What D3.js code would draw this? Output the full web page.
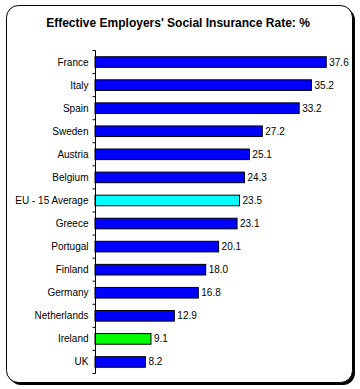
<!DOCTYPE html>
<html><head><meta charset="utf-8">
<script src="https://cdn.jsdelivr.net/npm/d3@7"></script>
<style>body{margin:0;background:#fff;}svg{display:block;}</style>
</head><body>
<script>
const categories = ["France","Italy","Spain","Sweden","Austria","Belgium","EU - 15 Average","Greece","Portugal","Finland","Germany","Netherlands","Ireland","UK"];
const values = [37.6,35.2,33.2,27.2,25.1,24.3,23.5,23.1,20.1,18.0,16.8,12.9,9.1,8.2];
const barColors = ["#0000FF","#0000FF","#0000FF","#0000FF","#0000FF","#0000FF","#00FFFF","#0000FF","#0000FF","#0000FF","#0000FF","#0000FF","#00FF00","#0000FF"];
const title = "Effective Employers' Social Insurance Rate: %";

const W = 360, H = 389;
const svg = d3.select("body").append("svg").attr("width", W).attr("height", H);

// frame with shadow
svg.append("rect").attr("x", 9).attr("y", 8).attr("width", 346).attr("height", 377)
  .attr("rx", 12).attr("fill", "#000");
svg.append("rect").attr("x", 6.5).attr("y", 5.5).attr("width", 346).attr("height", 377)
  .attr("rx", 12).attr("fill", "#fff").attr("stroke", "#000").attr("stroke-width", 1);

svg.append("text").attr("x", 178).attr("y", 27).attr("text-anchor", "middle")
  .attr("font-family", "Liberation Sans, Arial, sans-serif").attr("font-weight", "bold")
  .attr("font-size", "12px").attr("fill", "#000").text(title);

const x0 = 95;
const x = d3.scaleLinear().domain([0, 40]).range([x0, x0 + 246]);
const y = d3.scaleBand().domain(categories).range([50.5, 373.5]).paddingInner(0.54).paddingOuter(0.27);

const g = svg.append("g");
g.selectAll("rect.bar").data(values).join("rect").attr("class", "bar")
  .attr("x", x(0)).attr("y", (d, i) => y(categories[i]))
  .attr("width", d => x(d) - x(0)).attr("height", y.bandwidth())
  .attr("fill", (d, i) => barColors[i]).attr("stroke", "#000").attr("stroke-width", 1);

g.selectAll("text.val").data(values).join("text").attr("class", "val")
  .attr("x", d => x(d) + 3).attr("y", (d, i) => y(categories[i]) + y.bandwidth() / 2)
  .attr("dy", "0.35em").attr("font-family", "Liberation Sans, Arial, sans-serif")
  .attr("font-size", "10px").attr("fill", "#000").text(d => d.toFixed(1));

// axis
const axisG = svg.append("g").attr("transform", `translate(${x0 + 0.5},0)`);
axisG.append("line").attr("x1", 0).attr("x2", 0).attr("y1", 50.5).attr("y2", 373.5).attr("stroke", "#000");
const bounds = d3.range(categories.length + 1).map(i => 50.5 + i * (323 / categories.length));
axisG.selectAll("line.tick").data(bounds).join("line").attr("class", "tick")
  .attr("x1", -3).attr("x2", 0).attr("y1", d => d).attr("y2", d => d).attr("stroke", "#000");
axisG.selectAll("text.cat").data(categories).join("text").attr("class", "cat")
  .attr("x", -7).attr("y", d => y(d) + y.bandwidth() / 2).attr("dy", "0.35em")
  .attr("text-anchor", "end").attr("font-family", "Liberation Sans, Arial, sans-serif")
  .attr("font-size", "10px").attr("fill", "#000").text(d => d);
</script>
</body></html>
